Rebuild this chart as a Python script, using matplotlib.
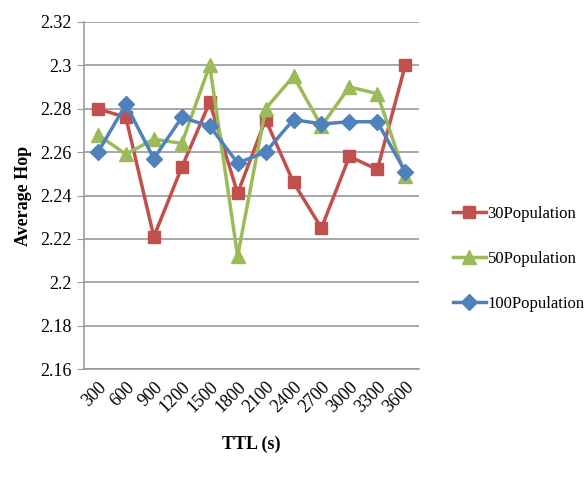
import matplotlib.pyplot as plt

ttl = [300, 600, 900, 1200, 1500, 1800, 2100, 2400, 2700, 3000, 3300, 3600]
pop30 = [2.280, 2.276, 2.221, 2.253, 2.283, 2.241, 2.275, 2.246, 2.225, 2.258, 2.252, 2.300]
pop50 = [2.268, 2.259, 2.266, 2.264, 2.300, 2.212, 2.280, 2.295, 2.272, 2.290, 2.287, 2.249]
pop100 = [2.260, 2.282, 2.257, 2.276, 2.272, 2.255, 2.260, 2.275, 2.273, 2.274, 2.274, 2.251]
yticks = [2.16, 2.18, 2.2, 2.22, 2.24, 2.26, 2.28, 2.3, 2.32]

plt.rcParams['font.family'] = ['Liberation Serif', 'DejaVu Serif']

fig = plt.figure(figsize=(5.85, 4.78), dpi=100)
ax = fig.add_axes([0.1436, 0.228, 0.573, 0.726])

x = list(range(len(ttl)))
ax.plot(x, pop30, color='#C0504D', marker='s', markersize=9, linewidth=2.5, label='30Population')
ax.plot(x, pop50, color='#9BBB59', marker='^', markersize=10, linewidth=2.5, label='50Population')
ax.plot(x, pop100, color='#4F81BD', marker='D', markersize=8, linewidth=2.5, label='100Population')

ax.set_xlim(-0.5, len(ttl) - 0.5)
ax.set_ylim(2.16, 2.32)
ax.set_yticks(yticks)
ax.set_yticklabels([f'{v:g}' for v in yticks], fontsize=13)
ax.set_xticks(x)
ax.set_xticklabels([str(t) for t in ttl], rotation=45, ha='right', rotation_mode='anchor', fontsize=13)
ax.tick_params(axis='x', length=0, pad=7)
ax.tick_params(axis='y', length=5, color='#999999', direction='out', pad=4)
ax.grid(axis='y', color='#999999', linewidth=1.2)
ax.set_axisbelow(True)
for s in ['top', 'right']:
    ax.spines[s].set_visible(False)
for s in ['left', 'bottom']:
    ax.spines[s].set_color('#999999')
    ax.spines[s].set_linewidth(1.2)

ax.set_ylabel('Average Hop', fontsize=13, fontweight='bold', labelpad=6)
ax.set_xlabel('TTL (s)', fontsize=13, fontweight='bold', labelpad=14)

fig.legend(loc='center left', bbox_to_anchor=(0.748, 0.458), frameon=False,
           fontsize=12, labelspacing=1.75, handlelength=2.0, handletextpad=0.1)

fig.savefig('out.png', dpi=100)
